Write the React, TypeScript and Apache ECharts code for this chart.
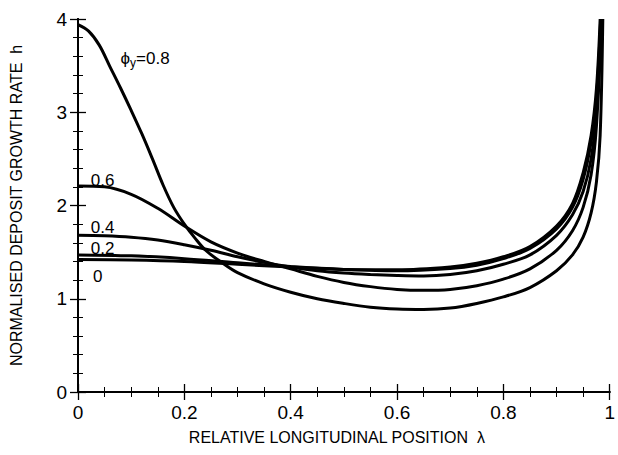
import React, { useEffect, useRef } from "react";
import * as echarts from "echarts";

// λ positions and growth rate h for each φy curve
const lam0 = [0, 0.1, 0.2, 0.3, 0.4, 0.5, 0.6, 0.7, 0.75, 0.8, 0.85, 0.9, 0.93, 0.95, 0.965, 0.975, 0.982];
const h0 = [1.42, 1.415, 1.40, 1.37, 1.34, 1.315, 1.31, 1.34, 1.38, 1.45, 1.56, 1.78, 2.02, 2.35, 2.75, 3.25, 4.0];

const lam2 = [0, 0.1, 0.2, 0.3, 0.4, 0.5, 0.6, 0.7, 0.75, 0.8, 0.85, 0.9, 0.93, 0.95, 0.965, 0.975, 0.983];
const h2 = [1.47, 1.46, 1.43, 1.385, 1.345, 1.315, 1.30, 1.325, 1.36, 1.43, 1.54, 1.75, 1.98, 2.28, 2.68, 3.15, 4.0];

const lam4 = [0, 0.05, 0.1, 0.15, 0.2, 0.25, 0.3, 0.35, 0.4, 0.45, 0.5, 0.55, 0.6, 0.65, 0.7, 0.75, 0.8, 0.85, 0.9, 0.93, 0.95, 0.965, 0.975, 0.984];
const h4 = [1.68, 1.675, 1.66, 1.63, 1.58, 1.52, 1.45, 1.39, 1.34, 1.30, 1.275, 1.26, 1.25, 1.245, 1.26, 1.30, 1.37, 1.47, 1.68, 1.9, 2.15, 2.5, 3.0, 4.0];

const lam6 = [0, 0.05, 0.1, 0.15, 0.2, 0.25, 0.3, 0.35, 0.4, 0.45, 0.5, 0.55, 0.6, 0.65, 0.7, 0.75, 0.8, 0.85, 0.9, 0.93, 0.95, 0.965, 0.975, 0.985];
const h6 = [2.21, 2.20, 2.12, 1.97, 1.78, 1.61, 1.49, 1.40, 1.32, 1.24, 1.175, 1.13, 1.10, 1.09, 1.10, 1.14, 1.21, 1.32, 1.52, 1.73, 1.98, 2.33, 2.85, 4.0];

const lam8 = [0, 0.02, 0.04, 0.06, 0.08, 0.1, 0.12, 0.14, 0.16, 0.18, 0.2, 0.22, 0.24, 0.27, 0.3, 0.35, 0.4, 0.45, 0.5, 0.55, 0.6, 0.65, 0.7, 0.75, 0.8, 0.85, 0.9, 0.93, 0.95, 0.965, 0.975, 0.982, 0.987];
const h8 = [3.94, 3.87, 3.72, 3.49, 3.26, 3.02, 2.77, 2.50, 2.22, 1.98, 1.80, 1.65, 1.52, 1.39, 1.28, 1.16, 1.07, 1.00, 0.95, 0.91, 0.89, 0.885, 0.90, 0.95, 1.02, 1.12, 1.30, 1.47, 1.66, 1.92, 2.25, 2.75, 4.0];

const curveNames = ["0", "0.2", "0.4", "0.6", "0.8"];
const curveLams = [lam0, lam2, lam4, lam6, lam8];
const curveHs = [h0, h2, h4, h6, h8];

// curve labels: text and anchor in data coordinates (λ, h)
const labelTexts = ["0", "0.2", "0.4", "0.6", "{a|ϕ}{s|y}{a|=0.8}"];
const labelLam = [0.028, 0.024, 0.024, 0.024, 0.08];
const labelH = [1.24, 1.54, 1.76, 2.27, 3.58];

const FONT = "'Liberation Sans', Arial, Helvetica, sans-serif";

export default function App() {
  const ref = useRef<HTMLDivElement>(null);
  useEffect(() => {
    if (!ref.current) return;
    const chart = echarts.init(ref.current, undefined, { renderer: "svg" });
    const axisLine = { show: true, lineStyle: { color: "#000", width: 2 } };
    const majorTick = { show: true, inside: true, length: 8, lineStyle: { color: "#000", width: 1.3 } };
    const minor = (n: number) => ({ show: true, splitNumber: n, length: 5, lineStyle: { color: "#000", width: 1 } });
    chart.setOption({
      animation: false,
      backgroundColor: "#fff",
      grid: { left: 76, right: 6, top: 19, bottom: 63, show: false },
      xAxis: [
        {
          type: "value", min: 0, max: 1, interval: 0.2, position: "bottom",
          axisLine, axisTick: majorTick, minorTick: minor(4), splitLine: { show: false },
          axisLabel: { color: "#000", fontSize: 19, fontFamily: FONT, margin: 11, formatter: (v: number) => String(v) },
          name: "RELATIVE LONGITUDINAL POSITION  λ", nameLocation: "middle", nameGap: 37,
          nameTextStyle: { color: "#000", fontSize: 16, fontFamily: FONT, padding: [0, 14, 0, 0] },
        },
        {
          type: "value", min: 0, max: 1, interval: 0.2, position: "top",
          axisLine, axisTick: majorTick, minorTick: minor(4), splitLine: { show: false },
          axisLabel: { show: false },
        },
      ],
      yAxis: [
        {
          type: "value", min: 0, max: 4, interval: 1, position: "left",
          axisLine, axisTick: majorTick, minorTick: minor(5), splitLine: { show: false },
          axisLabel: { color: "#000", fontSize: 19, fontFamily: FONT, margin: 11 },
          name: "NORMALISED DEPOSIT GROWTH RATE  h", nameLocation: "middle", nameGap: 54,
          nameTextStyle: { color: "#000", fontSize: 16, fontFamily: FONT },
        },
        {
          type: "value", min: 0, max: 4, interval: 1, position: "right",
          axisLine, axisTick: majorTick, minorTick: minor(5), splitLine: { show: false },
          axisLabel: { show: false },
        },
      ],
      series: curveNames.map((n, i) => ({
        name: "ϕy=" + n,
        type: "line",
        xAxisIndex: 0,
        yAxisIndex: 0,
        showSymbol: false,
        smooth: 0.35,
        clip: true,
        lineStyle: { color: "#000", width: 3 },
        data: curveLams[i].map((l, j) => [l, curveHs[i][j]]),
      })),
    });
    const graphics = labelTexts.map((t, i) => {
      const p = chart.convertToPixel({ gridIndex: 0 }, [labelLam[i], labelH[i]]) as number[];
      return {
        type: "text",
        x: p[0],
        y: p[1],
        style: {
          text: t,
          fill: "#000",
          fontSize: 17,
          fontFamily: FONT,
          align: "left",
          verticalAlign: "middle",
          rich: {
            a: { fontSize: 17, fontFamily: FONT, fill: "#000" },
            s: { fontSize: 12, fontFamily: FONT, fill: "#000", padding: [10, 0, 0, 0] },
          },
        },
      };
    });
    chart.setOption({ graphic: graphics });
    return () => chart.dispose();
  }, []);
  return <div ref={ref} style={{ position: "absolute", left: 0, top: 0, width: 618, height: 455 }} />;
}
